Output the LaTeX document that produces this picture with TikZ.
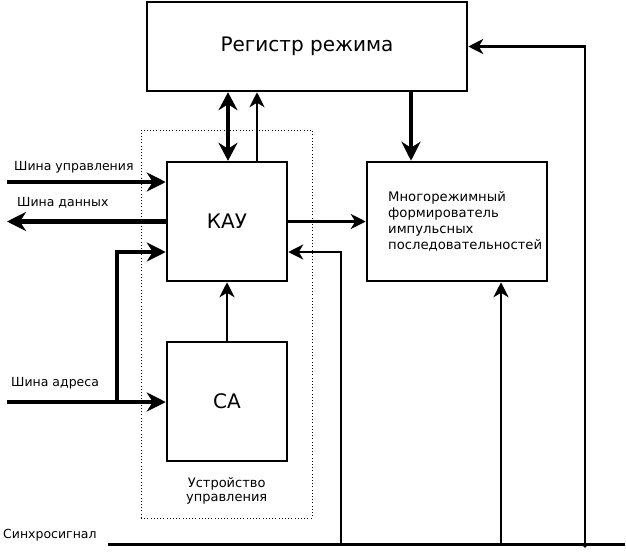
\documentclass[tikz,border=0pt]{standalone}
\usepackage{fontspec}
\setmainfont{DejaVu Sans}
\usetikzlibrary{arrows.meta}
\begin{document}
\begin{tikzpicture}[x=1pt,y=-1pt,
  box/.style={draw,line width=2.5pt,inner sep=0pt},
  bigtxt/.style={font=\fontsize{20}{24}\selectfont},
  smalltxt/.style={font=\fontsize{12.5}{15}\selectfont},
  udtxt/.style={font=\fontsize{13}{14.5}\selectfont},
  mftxt/.style={font=\fontsize{13.2}{15.8}\selectfont},
  wire/.style={line width=2.3pt},
  thinarr/.style={line width=2.3pt,-{Stealth[length=15pt,width=15pt,inset=4.5pt]}},
  thickarr/.style={line width=4.3pt,-{Stealth[length=19pt,width=19pt,inset=6pt]}},
  thickbi/.style={line width=4.1pt,{Stealth[length=18pt,width=19pt,inset=6pt]}-{Stealth[length=18pt,width=19pt,inset=6pt]}},
  dotbox/.style={draw,line width=1pt,dash pattern=on 1pt off 2.2pt,inner sep=0pt}]
\useasboundingbox (0,0) rectangle (626,552);

% blocks
\node[box,minimum width=320pt,minimum height=89pt,bigtxt] (reg) at (307,46.5) {Регистр режима};
\node[dotbox,minimum width=171pt,minimum height=388pt] (ud) at (226.5,324) {};
\node[box,minimum width=120pt,minimum height=119pt,bigtxt] (kau) at (227,221.5) {КАУ};
\node[box,minimum width=120pt,minimum height=119pt,bigtxt] (ca) at (227,401.5) {СА};
\node[box,minimum width=180pt,minimum height=119pt] (mf) at (457,221.5) {};
\node[mftxt,align=left,anchor=west,inner sep=0pt] (mft) at (388,221.5) {Многорежимный\\формирователь\\импульсных\\последовательностей};
\node[udtxt,align=center,inner sep=0pt] (udt) at (226.7,491) {Устройство\\управления};

% bus labels
\node[smalltxt,anchor=base west,inner sep=0pt] (lcu) at (14,170) {Шина управления};
\node[smalltxt,anchor=base west,inner sep=0pt] (lcd) at (17,206) {Шина данных};
\node[smalltxt,anchor=base west,inner sep=0pt] (lca) at (11,386) {Шина адреса};
\node[smalltxt,anchor=base west,inner sep=0pt] (ls) at (3,538) {Синхросигнал};

% free ends
\coordinate (cu) at (7,182);
\coordinate (cd) at (7,221.5);
\coordinate (ca0) at (7,402);
\coordinate (br) at (117,402);
\coordinate (s0) at (108,544.5);
\coordinate (s1) at (625,544.5);
\coordinate (sk) at (341,544.5);
\coordinate (sm) at (501,544.5);
\coordinate (sr) at (585,544.5);

% register <-> KAU
\draw[thickbi] ([xshift=1pt]kau.north |- reg.south) -- ([xshift=1pt]kau.north);
\draw[thinarr] ([xshift=30pt]kau.north) -- ([xshift=30pt]kau.north |- reg.south);
\draw[thickarr] ([xshift=-46pt]mf.north |- reg.south) -- ([xshift=-46pt]mf.north);
\draw[thinarr] (kau.east) -- (mf.west);
\draw[thinarr] (ca.north) -- (kau.south);

% buses
\draw[thickarr] (cu) -- (cu -| kau.west);
\draw[thickarr] (kau.west) -- (cd);
\draw[thickarr] (ca0) -- (ca0 -| ca.west);
\draw[thickarr] (br) |- ([yshift=-30.5pt]kau.west);

% sync
\draw[wire] (s0) -- (s1);
\draw[thinarr] (sk) |- ([yshift=-30.5pt]kau.east);
\draw[thinarr] (sm) -- (sm |- mf.south);
\draw[thinarr] (sr) |- (reg.east);
\fill (585,546) circle (1.8pt);
\end{tikzpicture}
\end{document}
